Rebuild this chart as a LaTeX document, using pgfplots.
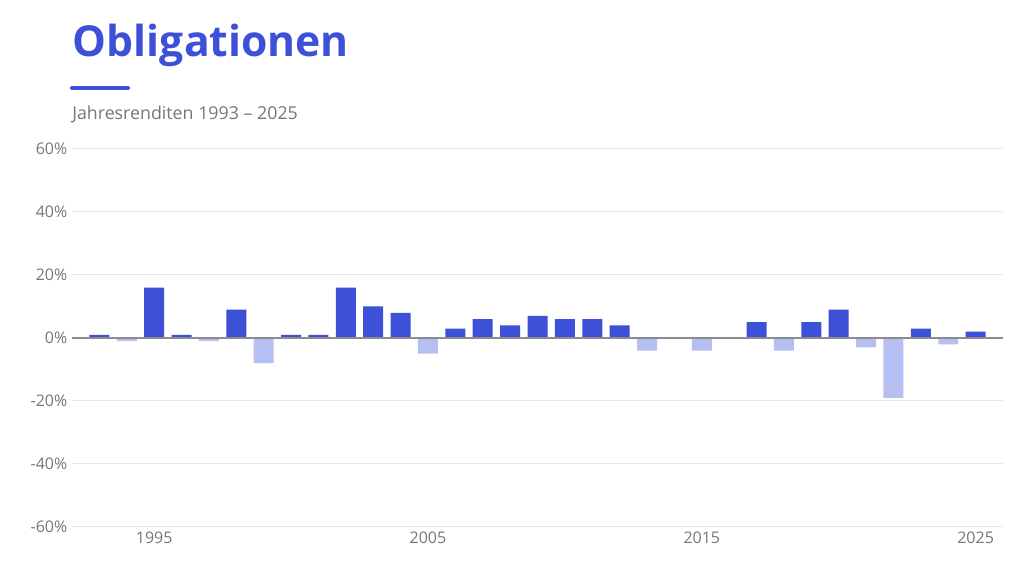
\documentclass[border=0pt]{standalone}
\usepackage{pgfplots}
\pgfplotsset{compat=1.18}
\usepackage{fontspec}
\setmainfont{Open Sans}

\definecolor{bondblue}{HTML}{3D51D8}
\definecolor{bondlight}{HTML}{B6BFF2}
\definecolor{ticktext}{HTML}{777777}

% returns per year, split into gains and losses
\begin{document}
\begin{tikzpicture}
  \path[fill=white] (0pt,0pt) rectangle (768pt,429.75pt);
  \node[anchor=base west, inner sep=0pt, text=bondblue, font=\fontsize{32}{38}\selectfont\bfseries]
    at (54.5pt,387pt) {Obligationen};
  \draw[bondblue, line width=3pt, line cap=round] (54pt,363.75pt) -- (96pt,363.75pt);
  \node[anchor=base west, inner sep=0pt, text=ticktext, font=\fontsize{13.35}{16}\selectfont]
    at (54pt,339.75pt) {Jahresrenditen 1993 – 2025};

  \begin{axis}[
      at={(54pt,34.5pt)}, anchor=south west,
      scale only axis,
      width=698.25pt, height=283.5pt,
      xmin=1992, xmax=2026,
      ymin=-60, ymax=60,
      axis line style={draw=none},
      major tick length=0pt,
      xtick={1995,2005,2015,2025},
      ytick={-60,-40,-20,0,20,40,60},
      yticklabels={-60\%,-40\%,-20\%,0\%,20\%,40\%,60\%},
      xticklabel style={/pgf/number format/1000 sep={}},
      /pgf/number format/assume math mode=true,
      tick label style={text=ticktext, font=\fontsize{12}{14}\selectfont},
      ymajorgrids,
      grid style={color=black!9, line width=0.75pt},
      ybar, bar width=0.73,
      clip=false,
    ]
    \addplot[fill=bondblue, draw=none, bar shift=0pt] coordinates {
      (1993,1) (1995,16) (1996,1) (1998,9) (2000,1) (2001,1) (2002,16)
      (2003,10) (2004,8) (2006,3) (2007,6) (2008,4) (2009,7) (2010,6)
      (2011,6) (2012,4) (2017,5) (2019,5) (2020,9) (2023,3) (2025,2)
    };
    \addplot[fill=bondlight, draw=none, bar shift=0pt] coordinates {
      (1994,-1) (1997,-1) (1999,-8) (2005,-5) (2013,-4) (2015,-4)
      (2018,-4) (2021,-3) (2022,-19) (2024,-2)
    };
    \draw[black!45, line width=0.9pt] (axis cs:1992,0) -- (axis cs:2026,0);
  \end{axis}
\end{tikzpicture}
\end{document}
